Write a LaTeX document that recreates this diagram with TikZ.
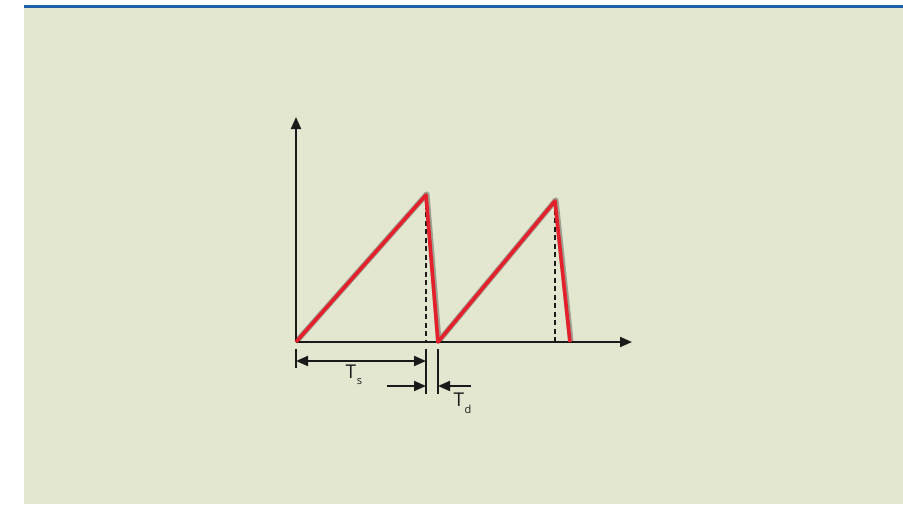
\documentclass[tikz,border=0pt]{standalone}
\usepackage{fontspec}
\setmainfont{Open Sans}
\usetikzlibrary{arrows.meta}
\definecolor{bgc}{HTML}{E3E7D0}
\definecolor{barc}{HTML}{1E5FA6}
\definecolor{wave}{HTML}{E3202B}
\definecolor{ink}{HTML}{1A1A1A}
\tikzset{
  axis/.style={draw=ink, line width=2pt, -{Triangle[length=12pt,width=10pt]}},
  tick/.style={draw=ink, line width=2pt},
  dimarrow/.style={draw=ink, line width=2pt, -{Triangle[length=12pt,width=10pt]}},
  guide/.style={draw=ink, line width=1.3pt, dash pattern=on 5pt off 3.5pt},
  waveshadow/.style={draw=black, opacity=0.3, line width=5.5pt, line join=round},
  waveline/.style={draw=wave, line width=3.6pt, line join=round},
  lbl/.style={inner sep=0pt, text=ink, font=\fontsize{19}{19}\selectfont},
  sub/.style={inner sep=0pt, text=ink, font=\fontsize{11}{11}\selectfont}
}
\begin{document}
\begin{tikzpicture}[x=1pt,y=-1pt]
\useasboundingbox (0,0) rectangle (903,504);
\fill[white] (0,0) rectangle (903,504);
\fill[bgc] (24,7) rectangle (903,504);
\fill[barc] (24,4.5) rectangle (903,7.5);
% coordinates
\coordinate (O) at (296,342);
\coordinate (ytop) at (296,117);
\coordinate (xend) at (632,342);
\coordinate (p1) at (426,195);
\coordinate (b1) at (438,342);
\coordinate (p2) at (555,201);
\coordinate (b2) at (570,342);
\coordinate (p1f) at (426,342);
\coordinate (p2f) at (555,342);
% guides
\draw[guide] (p1) -- (p1f);
\draw[guide] (p2) -- (p2f);
% axes
\draw[axis] (O) -- (ytop);
\draw[axis] (O) -- (xend);
% wave
\draw[waveshadow] ([xshift=0.8pt,yshift=1pt]O) -- ([xshift=0.8pt,yshift=1pt]p1) -- ([xshift=0.8pt,yshift=1pt]b1) -- ([xshift=0.8pt,yshift=1pt]p2) -- ([xshift=0.8pt,yshift=1pt]b2);
\draw[waveline] (O) -- (p1) -- (b1) -- (p2) -- (b2);
% dimension ticks
\coordinate (t1a) at (296,349);
\coordinate (t1b) at (296,368);
\coordinate (t2a) at (426,349);
\coordinate (t2b) at (426,394);
\coordinate (t3a) at (438,349);
\coordinate (t3b) at (438,394);
\draw[tick] (t1a) -- (t1b);
\draw[tick] (t2a) -- (t2b);
\draw[tick] (t3a) -- (t3b);
% Ts dimension
\coordinate (ts1) at (296,361);
\coordinate (ts2) at (426,361);
\draw[dimarrow, {Triangle[length=12pt,width=10pt]}-{Triangle[length=12pt,width=10pt]}] (ts1) -- (ts2);
% Td arrows
\coordinate (da1) at (387,386);
\coordinate (da2) at (426,386);
\coordinate (db1) at (471,386);
\coordinate (db2) at (438,386);
\draw[dimarrow] (da1) -- (da2);
\draw[dimarrow] (db1) -- (db2);
% labels
\node[lbl] (Ts) at (351,372) {T};
\node[sub] (Tss) at (359.5,382) {s};
\node[lbl] (Td) at (459,400) {T};
\node[sub] (Tdd) at (468,409) {d};
\end{tikzpicture}
\end{document}
